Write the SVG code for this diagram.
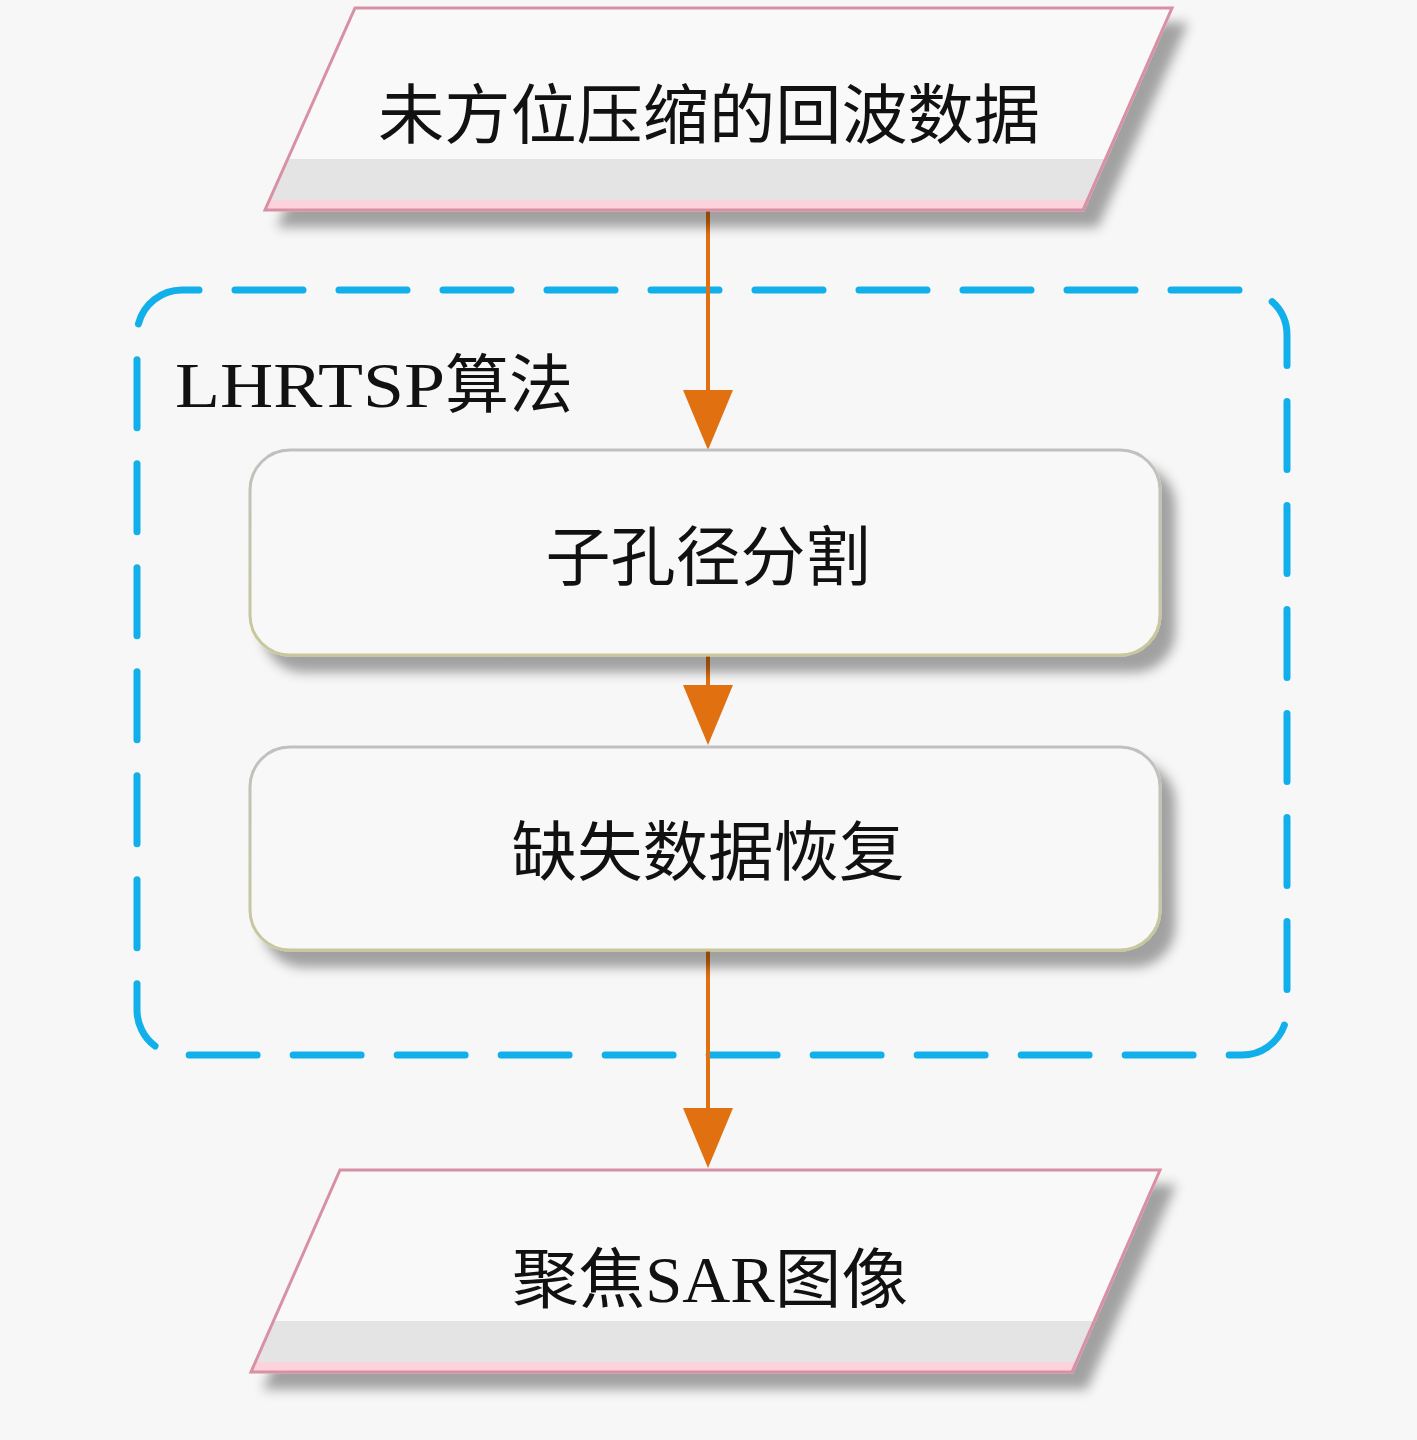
<svg xmlns="http://www.w3.org/2000/svg" width="1417" height="1440" viewBox="0 0 1417 1440">
<defs>
<filter id="sh" x="-10%" y="-10%" width="130%" height="140%">
<feDropShadow dx="14" dy="16" stdDeviation="6" flood-color="#000" flood-opacity="0.35"/>
</filter>
<linearGradient id="pg" x1="0" y1="0" x2="0" y2="1">
<stop offset="0" stop-color="#f9f9f9"/>
<stop offset="0.75" stop-color="#f9f9f9"/>
<stop offset="0.75" stop-color="#e4e4e4"/>
<stop offset="0.95" stop-color="#e4e4e4"/>
<stop offset="0.95" stop-color="#fcd3dd"/>
<stop offset="1" stop-color="#fcd3dd"/>
</linearGradient>
<linearGradient id="bs" x1="0" y1="0" x2="0" y2="1">
<stop offset="0" stop-color="#c0c0c0"/>
<stop offset="1" stop-color="#c8c89a"/>
</linearGradient>
<style>
.io{fill:url(#pg);stroke:#d890a4;stroke-width:3;filter:url(#sh)}
.pr{fill:#f8f8f8;stroke:url(#bs);stroke-width:3;filter:url(#sh)}
.cjk{font-family:"Liberation Serif","Noto Sans CJK SC",serif;font-size:65px;fill:#111;text-anchor:middle}
.mix{font-family:"Liberation Serif","Noto Sans CJK SC",serif;font-size:64px;fill:#111}
.edge{stroke:#e07010;stroke-width:4;fill:none}
.head{fill:#e07010}
.grp{fill:none;stroke:#12b0ea;stroke-width:7;stroke-linecap:round;stroke-dasharray:68 36}
</style>
</defs>
<rect width="1417" height="1440" fill="#f7f7f7"/>
<g id="group-lhrtsp">
<rect class="grp" x="137" y="290" width="1150" height="765" rx="45" ry="45" stroke-dashoffset="51"/>
<text class="mix" x="175" y="407"><tspan textLength="270" lengthAdjust="spacingAndGlyphs">LHRTSP</tspan><tspan>算法</tspan></text>
</g>
<g id="connectors">
<line class="edge" x1="708" y1="210" x2="708" y2="392"/>
<path class="head" d="M683,390 L733,390 L708,450 Z"/>
<line class="edge" x1="708" y1="655" x2="708" y2="687"/>
<path class="head" d="M683,685 L733,685 L708,745 Z"/>
<line class="edge" x1="708" y1="950" x2="708" y2="1110"/>
<path class="head" d="M683,1108 L733,1108 L708,1168 Z"/>
</g>
<g id="node-input">
<polygon class="io" points="355,8 1172,8 1083,210 265,210"/>
<text class="cjk" x="709" y="138" textLength="662" lengthAdjust="spacingAndGlyphs">未方位压缩的回波数据</text>
</g>
<g id="node-split">
<rect class="pr" x="250" y="450" width="910" height="205" rx="40" ry="40"/>
<text class="cjk" x="708" y="580" textLength="325" lengthAdjust="spacingAndGlyphs">子孔径分割</text>
</g>
<g id="node-recover">
<rect class="pr" x="250" y="747" width="910" height="203" rx="40" ry="40"/>
<text class="cjk" x="708" y="875" textLength="393" lengthAdjust="spacingAndGlyphs">缺失数据恢复</text>
</g>
<g id="node-output">
<polygon class="io" points="340,1170 1160,1170 1072,1372 251,1372"/>
<text class="cjk" x="710" y="1302" textLength="396" lengthAdjust="spacingAndGlyphs">聚焦SAR图像</text>
</g>
</svg>
